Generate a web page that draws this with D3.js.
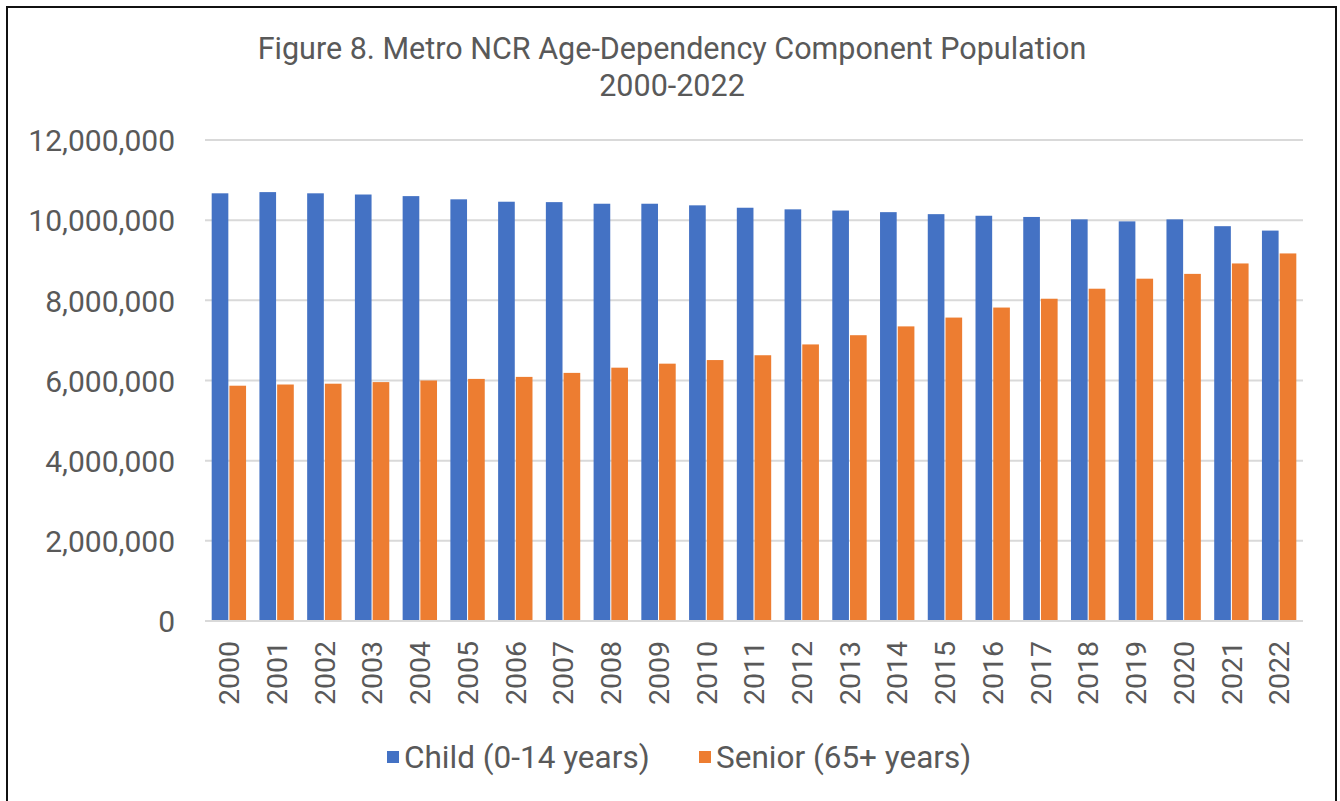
<!DOCTYPE html>
<html>
<head>
<meta charset="utf-8">
<script src="https://cdn.jsdelivr.net/npm/d3@7"></script>
<style>
  body { margin: 0; background: #fff; }
  text { font-family: Roboto, "Noto Sans", sans-serif; fill: #595959; }
</style>
</head>
<body>
<svg id="chart" width="1340" height="801"></svg>
<script>
const years = ["2000", "2001", "2002", "2003", "2004", "2005", "2006", "2007",
  "2008", "2009", "2010", "2011", "2012", "2013", "2014", "2015", "2016",
  "2017", "2018", "2019", "2020", "2021", "2022"];
const childPop = [10670000, 10700000, 10670000, 10640000, 10600000, 10520000,
  10460000, 10450000, 10410000, 10410000, 10370000, 10310000, 10270000,
  10240000, 10200000, 10150000, 10110000, 10080000, 10020000, 9970000,
  10020000, 9850000, 9740000];
const seniorPop = [5870000, 5900000, 5920000, 5960000, 6000000, 6040000,
  6090000, 6190000, 6320000, 6420000, 6510000, 6630000, 6900000, 7130000,
  7350000, 7570000, 7820000, 8040000, 8290000, 8540000, 8660000, 8920000,
  9170000];
const seriesNames = ["Child (0-14 years)", "Senior (65+ years)"];
const yTicks = [0, 2000000, 4000000, 6000000, 8000000, 10000000, 12000000];
const titleLines = ["Figure 8. Metro NCR Age-Dependency Component Population", "2000-2022"];

const colorMap = { child: "#4472C4", senior: "#ED7D31" };

const svg = d3.select("#chart");
const W = 1340, H = 801;
const plot = { left: 205, right: 1303, top: 140, bottom: 621 };

// frame round the picture
svg.append("rect")
  .attr("x", 7).attr("y", 7)
  .attr("width", 1329).attr("height", H + 10)
  .attr("fill", "none")
  .attr("stroke", "#111")
  .attr("stroke-width", 2);

// title
svg.append("g")
  .selectAll("text")
  .data(titleLines)
  .join("text")
  .attr("x", 672)
  .attr("y", (d, i) => 59 + i * 37)
  .attr("text-anchor", "middle")
  .style("font-size", "30.5px")
  .text(d => d);

const x0 = d3.scaleBand()
  .domain(years)
  .range([plot.left, plot.right])
  .paddingInner(0.28)
  .paddingOuter(0.14);

const keys = ["child", "senior"];
const x1 = d3.scaleBand()
  .domain(keys)
  .range([0, x0.bandwidth()])
  .paddingInner(0.06);

const y = d3.scaleLinear()
  .domain([0, 12000000])
  .range([plot.bottom, plot.top]);

// gridlines
svg.append("g")
  .selectAll("line")
  .data(yTicks.slice(1))
  .join("line")
  .attr("x1", plot.left).attr("x2", plot.right)
  .attr("y1", d => y(d)).attr("y2", d => y(d))
  .attr("stroke", "#D9D9D9")
  .attr("stroke-width", 2);

// y axis labels
const yAxis = d3.axisLeft(y)
  .tickValues(yTicks)
  .tickFormat(d3.format(","))
  .tickSize(0)
  .tickPadding(0);

svg.append("g")
  .attr("transform", `translate(175,0)`)
  .call(yAxis)
  .call(g => g.select(".domain").remove())
  .call(g => g.selectAll("text")
    .attr("dy", "0.36em")
    .style("font-size", "30px")
    .style("font-family", "Roboto, sans-serif")
    .attr("fill", "#595959"));

// bars
const rows = years.map((yr, i) => ({ year: yr, child: childPop[i], senior: seniorPop[i] }));

svg.append("g")
  .selectAll("g")
  .data(rows)
  .join("g")
  .attr("transform", d => `translate(${x0(d.year)},0)`)
  .selectAll("rect")
  .data(d => keys.map(k => ({ key: k, value: d[k] })))
  .join("rect")
  .attr("x", d => x1(d.key))
  .attr("width", x1.bandwidth())
  .attr("y", d => y(d.value))
  .attr("height", d => y(0) - y(d.value))
  .attr("fill", d => colorMap[d.key]);

// x axis line
svg.append("line")
  .attr("x1", plot.left).attr("x2", plot.right)
  .attr("y1", y(0)).attr("y2", y(0))
  .attr("stroke", "#D9D9D9")
  .attr("stroke-width", 2);

// x axis labels, rotated
const xAxis = d3.axisBottom(x0).tickSize(0).tickPadding(0);
svg.append("g")
  .attr("transform", `translate(0,${plot.bottom})`)
  .call(xAxis)
  .call(g => g.select(".domain").remove())
  .call(g => g.selectAll("text")
    .attr("transform", "rotate(-90)")
    .attr("text-anchor", "end")
    .attr("x", -20)
    .attr("y", 0)
    .attr("dy", "0.36em")
    .style("font-size", "28.5px")
    .style("font-family", "Roboto, sans-serif")
    .attr("fill", "#595959"));

// legend
const legendItems = [
  { name: seriesNames[0], color: colorMap.child, x: 387 },
  { name: seriesNames[1], color: colorMap.senior, x: 699 }
];
const legend = svg.append("g");
legend.selectAll("rect")
  .data(legendItems)
  .join("rect")
  .attr("x", d => d.x)
  .attr("y", 751)
  .attr("width", 12)
  .attr("height", 12)
  .attr("fill", d => d.color);
legend.selectAll("text")
  .data(legendItems)
  .join("text")
  .attr("x", d => d.x + 17)
  .attr("y", 768)
  .style("font-size", "31.5px")
  .text(d => d.name);
</script>
</body>
</html>
